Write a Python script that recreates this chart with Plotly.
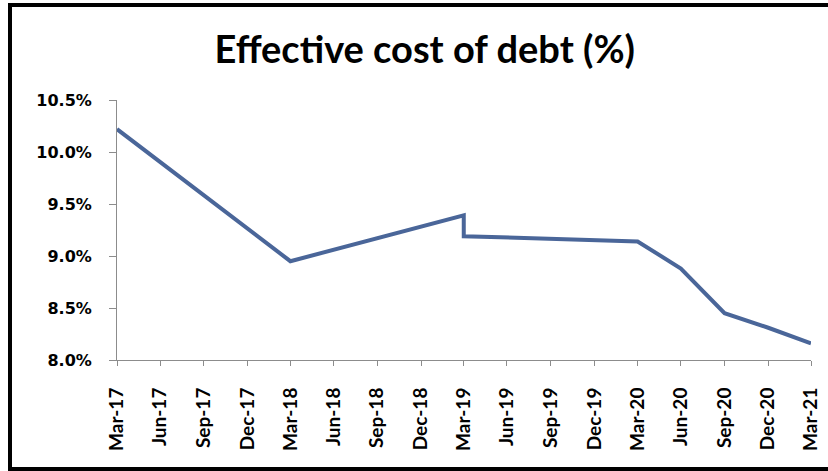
import plotly.graph_objects as go

# Data (quarter-end dates; Mar-19 appears twice -> vertical step)
dates = ["2017-03-31", "2018-03-31", "2019-03-31", "2019-03-31", "2020-03-31",
         "2020-06-30", "2020-09-30", "2020-12-31", "2021-03-31"]
cost_of_debt = [10.22, 8.95, 9.39, 9.19, 9.14, 8.88, 8.45, 8.31, 8.16]

tick_dates = ["2017-03-31", "2017-06-30", "2017-09-30", "2017-12-31",
              "2018-03-31", "2018-06-30", "2018-09-30", "2018-12-31",
              "2019-03-31", "2019-06-30", "2019-09-30", "2019-12-31",
              "2020-03-31", "2020-06-30", "2020-09-30", "2020-12-31",
              "2021-03-31"]
tick_labels = ["Mar-17", "Jun-17", "Sep-17", "Dec-17", "Mar-18", "Jun-18",
               "Sep-18", "Dec-18", "Mar-19", "Jun-19", "Sep-19", "Dec-19",
               "Mar-20", "Jun-20", "Sep-20", "Dec-20", "Mar-21"]
y_ticks = [8.0, 8.5, 9.0, 9.5, 10.0, 10.5]
y_labels = ["8.0%", "8.5%", "9.0%", "9.5%", "10.0%", "10.5%"]

fig = go.Figure()
fig.add_trace(go.Scatter(
    x=dates, y=cost_of_debt, mode="lines",
    line=dict(color="#4A6699", width=4),
    hoverinfo="skip", showlegend=False,
))

axis_grey = "#8C8C8C"
fig.update_layout(
    width=828, height=471,
    margin=dict(l=117, r=17, t=100, b=111, autoexpand=False),
    paper_bgcolor="white", plot_bgcolor="white",
    title=dict(
        text="<b>Effective cost of debt (%)</b>",
        font=dict(family="Lato", size=38, color="black"),
        x=0.513, xref="container", xanchor="center",
        y=1 - 50 / 471, yref="container", yanchor="middle",
    ),
    xaxis=dict(
        type="date",
        range=["2017-03-31", "2021-03-31"],
        tickvals=tick_dates, ticktext=tick_labels,
        tickangle=-90,
        tickfont=dict(family="Lato", size=19, color="black", weight="bold"),
        showgrid=False, zeroline=False,
        showline=True, linecolor=axis_grey, linewidth=1,
        ticks="outside", ticklen=5, tickcolor=axis_grey, tickwidth=1,
        ticklabelstandoff=14, automargin=False,
    ),
    yaxis=dict(
        range=[8.0, 10.5],
        tickvals=y_ticks, ticktext=y_labels,
        tickfont=dict(family="DejaVu Sans", size=16, color="black", weight="bold"),
        showgrid=False, zeroline=False,
        showline=True, linecolor=axis_grey, linewidth=1,
        ticks="outside", ticklen=7, tickcolor=axis_grey, tickwidth=1,
        ticklabelstandoff=14, automargin=False,
    ),
    shapes=[dict(
        type="rect", xref="paper", yref="paper",
        x0=(10 - 117) / 694, x1=1.3,
        y0=(360 - 469) / 260, y1=(360 - 5) / 260,
        line=dict(color="black", width=4), fillcolor="rgba(0,0,0,0)",
        layer="below",
    )],
)

fig.write_html("out.html")
